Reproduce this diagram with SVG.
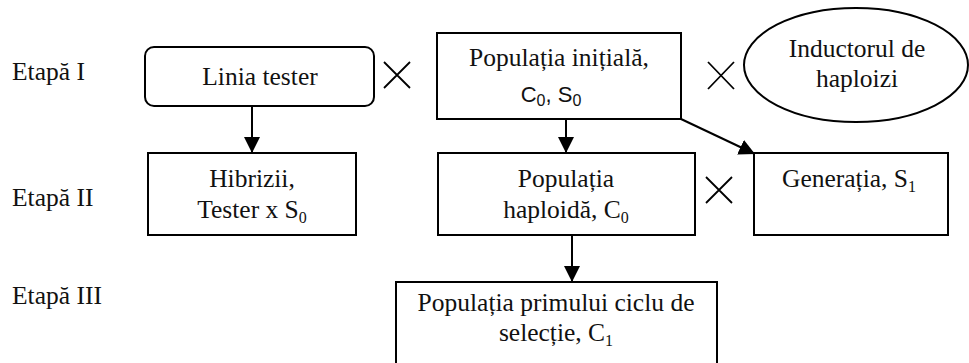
<svg xmlns="http://www.w3.org/2000/svg" width="969" height="363" viewBox="0 0 969 363">
<style>
.box{fill:#fff;stroke:#000;stroke-width:2}
.t{font-family:"Liberation Serif","Times New Roman",serif;font-size:25.5px;fill:#111;text-anchor:middle}
.lab{font-family:"Liberation Serif","Times New Roman",serif;font-size:25.5px;fill:#111}
.s{font-family:"Liberation Sans",Arial,sans-serif;font-size:22px;fill:#111;text-anchor:middle}
.sub{font-size:16px}
.x{stroke:#000;stroke-width:1.8;fill:none}
.c{stroke:#000;stroke-width:2;fill:none}
</style>
<defs>
<marker id="ah" markerWidth="16" markerHeight="16" refX="15" refY="7.5" orient="auto" markerUnits="userSpaceOnUse" viewBox="0 0 15 15">
<path d="M0,0 L15,7.5 L0,15 z" fill="#000"/>
</marker>
</defs>
<g id="labels">
<text class="lab" x="12" y="80">Etapă I</text>
<text class="lab" x="12" y="206">Etapă II</text>
<text class="lab" x="12" y="304">Etapă III</text>
</g>
<g id="connectors">
<line class="c" x1="252" y1="106" x2="252" y2="153" marker-end="url(#ah)"/>
<line class="c" x1="566" y1="107" x2="566" y2="153" marker-end="url(#ah)"/>
<line class="c" x1="681" y1="119" x2="755" y2="154" marker-end="url(#ah)"/>
<line class="c" x1="572" y1="235" x2="572" y2="282" marker-end="url(#ah)"/>
</g>
<g id="cross1"><path class="x" d="M384,62 L410,88 M410,62 L384,88"/></g>
<g id="cross2"><path class="x" d="M708,62 L734,89 M734,62 L708,89"/></g>
<g id="cross3"><path class="x" d="M706,177 L732,203 M732,177 L706,203"/></g>
<g id="linia">
<rect class="box" x="145" y="47" width="229" height="59" rx="9"/>
<text class="t" x="260" y="85">Linia tester</text>
</g>
<g id="populatia-initiala">
<rect class="box" x="437" y="33" width="244" height="86"/>
<text class="t" x="559" y="66">Populația inițială,</text>
<text class="s" x="551" y="102">C<tspan class="sub" dy="4">0</tspan><tspan dy="-4">, S</tspan><tspan class="sub" dy="4">0</tspan></text>
</g>
<g id="inductor">
<ellipse class="box" cx="856" cy="65" rx="112" ry="57"/>
<text class="t" x="857" y="57">Inductorul de</text>
<text class="t" x="857" y="87">haploizi</text>
</g>
<g id="hibrizii">
<rect class="box" x="148" y="153" width="208" height="82"/>
<text class="t" x="252" y="187">Hibrizii,</text>
<text class="t" x="252" y="218">Tester x S<tspan class="sub" dy="5">0</tspan></text>
</g>
<g id="haploida">
<rect class="box" x="438" y="153" width="257" height="82"/>
<text class="t" x="566" y="187">Populația</text>
<text class="t" x="566" y="218">haploidă, C<tspan class="sub" dy="5">0</tspan></text>
</g>
<g id="generatia">
<rect class="box" x="754" y="153" width="194" height="82"/>
<text class="t" x="849" y="187">Generația, S<tspan class="sub" dy="5">1</tspan></text>
</g>
<g id="ciclu">
<rect class="box" x="396" y="282" width="321" height="90"/>
<text class="t" x="556" y="311">Populația primului ciclu de</text>
<text class="t" x="556" y="341">selecție, C<tspan class="sub" dy="5">1</tspan></text>
</g>
</svg>
